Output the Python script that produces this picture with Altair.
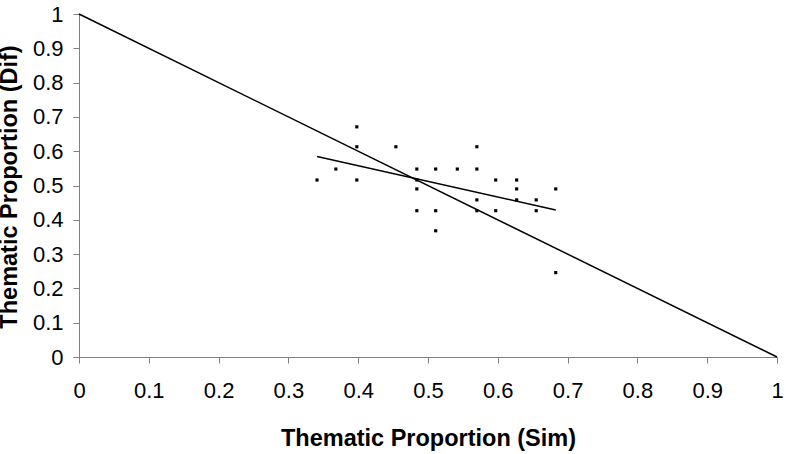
import altair as alt
import pandas as pd

# Scatter values
sim = [0.341, 0.368, 0.398, 0.398, 0.398, 0.454, 0.484, 0.484, 0.484, 0.484,
       0.511, 0.542, 0.570, 0.570, 0.597, 0.627, 0.627, 0.683, 0.570, 0.627,
       0.655, 0.511, 0.570, 0.597, 0.655, 0.511, 0.683]
dif = [0.516, 0.548, 0.671, 0.613, 0.516, 0.613, 0.548, 0.516, 0.490, 0.4265,
       0.548, 0.548, 0.548, 0.613, 0.516, 0.516, 0.490, 0.490, 0.458, 0.458,
       0.458, 0.4265, 0.4265, 0.4265, 0.4265, 0.368, 0.246]

# Reference diagonal (Sim + Dif = 1)
diag_sim = [0.0, 1.0]
diag_dif = [1.0, 0.0]

tick_values = [0, 0.1, 0.2, 0.3, 0.4, 0.5, 0.6, 0.7, 0.8, 0.9, 1]

points = pd.DataFrame({"sim": sim, "dif": dif})
diag = pd.DataFrame({"sim": diag_sim, "dif": diag_dif})

FONT = "Liberation Sans"
W, H = 698, 343

xscale = alt.Scale(domain=[0, 1], nice=False, zero=False)
yscale = alt.Scale(domain=[0, 1], nice=False, zero=False)

xaxis = alt.Axis(values=tick_values, format="~g", title="Thematic Proportion (Sim)")
yaxis = alt.Axis(values=tick_values, format="~g", title="Thematic Proportion (Dif)")

enc = dict(
    x=alt.X("sim:Q", scale=xscale, axis=xaxis),
    y=alt.Y("dif:Q", scale=yscale, axis=yaxis),
)

diag_line = alt.Chart(diag).mark_line(color="black", strokeWidth=1.5).encode(**enc)

trend = alt.Chart(points).transform_regression("sim", "dif").mark_line(
    color="black", strokeWidth=1.5).encode(**enc)

pts = alt.Chart(points).mark_square(size=10, color="black", opacity=1, filled=True).encode(**enc)

chart = alt.layer(diag_line, trend, pts).properties(
    width=W, height=H,
    autosize=alt.AutoSizeParams(type="none"),
    padding={"left": 79, "top": 14, "right": 9, "bottom": 97},
    background="white",
).configure_view(stroke=None).configure_axis(
    grid=False, domainColor="#808080", tickColor="#808080", tickSize=6,
    labelFontSize=22, labelFont=FONT, labelColor="black",
    labelFlush=False, labelOverlap=False,
    titleFontSize=23.5, titleFont=FONT, titleFontWeight="bold", titleColor="black",
).configure_axisX(
    labelPadding=17, titleX=W / 2, titleY=88, titleBaseline="alphabetic", titleAlign="center",
).configure_axisY(
    labelPadding=10, titleX=-63, titleY=H / 2 + 1, titleBaseline="alphabetic", titleAlign="center",
    titleAngle=270,
)

chart.save("out.html", embed_options={"renderer": "svg", "actions": False})
